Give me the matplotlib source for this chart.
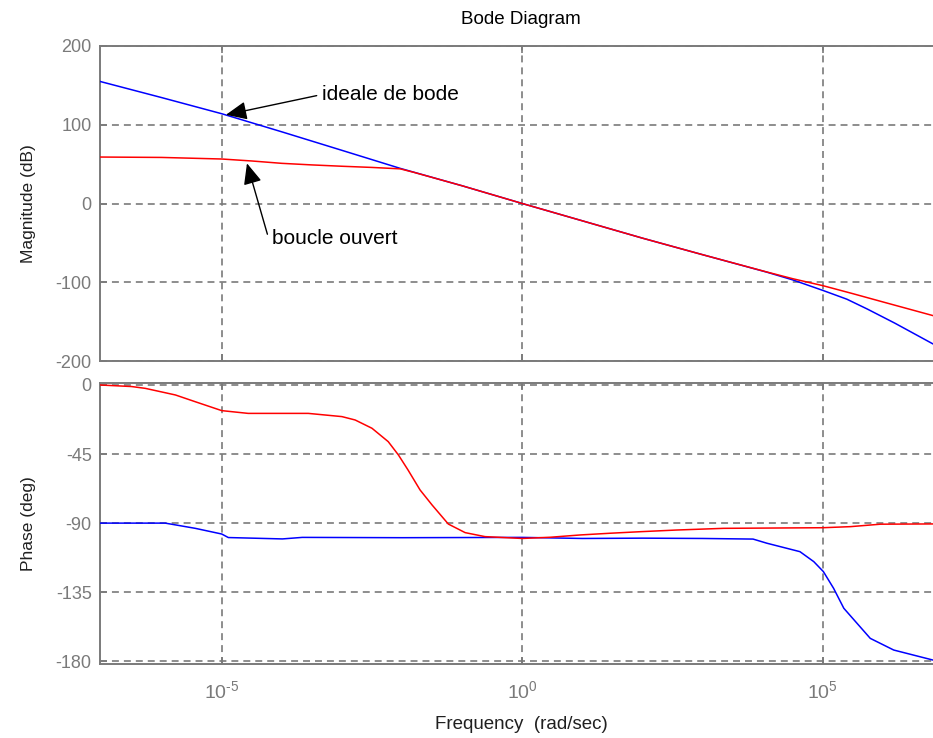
import numpy as np
import matplotlib
matplotlib.use("Agg")
import matplotlib.pyplot as plt
from matplotlib.ticker import FixedLocator, NullLocator, FixedFormatter

plt.rcParams['font.family'] = ['Liberation Sans', 'DejaVu Sans']
plt.rcParams['mathtext.fontset'] = 'custom'
plt.rcParams['mathtext.rm'] = 'Liberation Sans'
plt.rcParams['mathtext.it'] = 'Liberation Sans'
plt.rcParams['lines.scale_dashes'] = False
plt.rcParams['axes.unicode_minus'] = False

# ---- magnitude (dB) ----
# ideal Bode loop (blue)
logw_mag_ideal = [-7.025, -6.0, -5.0, -4.0, -3.0, -2.03, -1.0, 0.0, 1.0, 2.0, 3.0,
                  4.07, 4.5, 5.01, 5.4, 5.74, 6.2, 6.84, 7.0]
mag_ideal = [155.0, 134.5, 114.0, 91.0, 67.5, 44.6, 22.5, 0.0, -22.0, -44.0, -65.0,
             -87.2, -97.0, -110.6, -121.5, -134.0, -152.0, -178.6, -185.0]

# open loop (red)
logw_mag_open = [-7.025, -6.0, -5.5, -5.0, -4.5, -4.0, -3.5, -3.0, -2.5, -2.03, -1.8,
                 -1.0, 0.0, 1.0, 2.0, 3.0, 4.07, 4.5, 5.01, 5.5, 6.0, 6.84, 7.0]
mag_open = [59.0, 58.5, 57.5, 56.5, 54.0, 51.0, 49.0, 47.3, 45.8, 44.0, 39.5,
            22.5, 0.0, -22.0, -44.0, -65.0, -87.0, -95.5, -104.5, -114.5, -125.0, -142.5, -145.5]

# ---- phase (deg) ----
logw_ph_ideal = [-7.025, -5.94, -5.44, -5.0, -4.89, -3.99, -3.66, -2.0, 0.0, 1.0, 2.0,
                 3.0, 3.84, 4.07, 4.62, 4.85, 5.01, 5.18, 5.35, 5.57, 5.79, 6.18,
                 6.51, 6.84, 7.0]
ph_ideal = [-90.0, -90.0, -93.4, -97.1, -99.4, -100.3, -99.3, -99.5, -99.3, -100.0, -99.8,
            -100.0, -100.4, -103.1, -108.6, -115.1, -121.6, -132.5, -145.5, -155.3, -165.1,
            -172.7, -176.0, -179.3, -179.6]

logw_ph_open = [-7.025, -6.5, -6.27, -5.77, -5.44, -5.0, -4.56, -3.56, -3.0, -2.78, -2.5,
                -2.23, -2.06, -1.9, -1.7, -1.5, -1.23, -0.95, -0.62, 0.0, 0.47, 0.97,
                1.46, 1.96, 2.57, 3.35, 5.0, 5.46, 5.96, 7.0]
ph_open = [0.0, -1.0, -2.2, -6.5, -10.9, -16.7, -18.5, -18.5, -20.6, -22.8, -28.2,
           -36.9, -45.6, -55.4, -68.4, -78.2, -90.6, -96.2, -98.8, -100.0, -99.2, -97.7,
           -96.6, -95.6, -94.5, -93.4, -93.0, -92.3, -90.7, -90.5]

xticks = [1e-5, 1e0, 1e5]
xtick_labels = [r'$10^{\text{-}5}$', r'$10^{0}$', r'$10^{5}$']
mag_ticks = [-200, -100, 0, 100, 200]
ph_ticks = [-180, -135, -90, -45, 0]

GRAY = '#7a7a7a'
BLUE = '#0000ff'
RED = '#ff0000'

fig = plt.figure(figsize=(9.33, 7.38), dpi=100)
W, H = 933.0, 738.0
left = 100 / W
width = (943 - 100) / W
ax1 = fig.add_axes([left, 1 - 361 / H, width, (361 - 46) / H])
ax2 = fig.add_axes([left, 1 - 664 / H, width, (664 - 383) / H])

w = lambda lw: np.power(10.0, np.asarray(lw))

ax1.plot(w(logw_mag_ideal), mag_ideal, color=BLUE, lw=1.1, zorder=3)
ax1.plot(w(logw_mag_open), mag_open, color=RED, lw=1.1, zorder=3)
ax2.plot(w(logw_ph_ideal), ph_ideal, color=BLUE, lw=1.1, zorder=3)
ax2.plot(w(logw_ph_open), ph_open, color=RED, lw=1.1, zorder=3)

xlim = (10 ** -7.025, 10 ** 7.0)
for ax in (ax1, ax2):
    ax.set_xscale('log')
    ax.set_xlim(*xlim)
    ax.xaxis.set_major_locator(FixedLocator(xticks))
    ax.xaxis.set_major_formatter(FixedFormatter(xtick_labels))
    ax.xaxis.set_minor_locator(NullLocator())
    ax.grid(True, which='major', color=GRAY, lw=1.2, linestyle=(0, (5.0, 3.6)))
    ax.tick_params(which='both', direction='in', length=5, width=1.2, colors=GRAY,
                   top=True, right=True, labelsize=13, labelcolor=GRAY, pad=6)
    for s in ax.spines.values():
        s.set_color(GRAY)
        s.set_linewidth(1.4)
    ax.set_axisbelow(True)

ax1.set_ylim(-200, 200)
ax1.set_yticks(mag_ticks)
ax1.tick_params(labelbottom=False)

ax2.set_ylim(-181.8, 1.3)
ax2.set_yticks(ph_ticks)
ax2.tick_params(axis='x', pad=12, labelsize=14)

ax1.set_ylabel('Magnitude (dB)', fontsize=12.5, color='#202020', labelpad=14)
ax2.set_ylabel('Phase (deg)', fontsize=12.5, color='#202020', labelpad=14)
ax2.set_xlabel('Frequency  (rad/sec)', fontsize=13.5, color='#202020', labelpad=10)
fig.text(521 / W, 1 - 20 / H, 'Bode Diagram', ha='center', va='center',
         fontsize=13.5, color='black')

# annotations
arrow = dict(arrowstyle='-|>,head_length=0.8,head_width=0.35', color='black', lw=1.0,
             mutation_scale=16, shrinkA=0, shrinkB=0)
ax1.annotate('', xy=(10 ** -4.93, 112.6), xytext=(10 ** -3.42, 137.0),
             arrowprops=arrow)
ax1.text(10 ** -3.33, 138.0, 'ideale de bode', fontsize=15, va='center', ha='left')
ax1.annotate('', xy=(10 ** -4.58, 51.0), xytext=(10 ** -4.24, -39.0),
             arrowprops=arrow)
ax1.text(10 ** -4.16, -45.0, 'boucle ouvert', fontsize=15, va='center', ha='left')

fig.savefig('out.png', dpi=100)
